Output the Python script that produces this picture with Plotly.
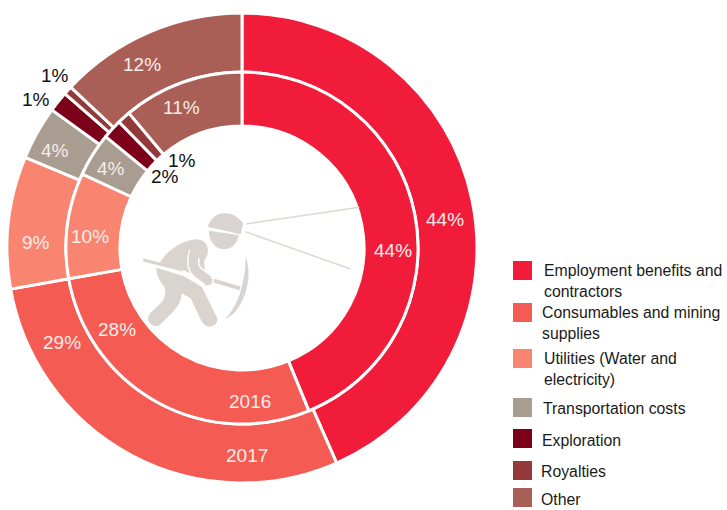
import plotly.graph_objects as go

W, H = 727, 510
categories = ["Employment benefits and contractors", "Consumables and mining supplies",
              "Utilities (Water and electricity)", "Transportation costs", "Exploration", "Royalties", "Other"]
legend_labels = ["Employment benefits and<br>contractors", "Consumables and mining<br>supplies",
                 "Utilities (Water and<br>electricity)", "Transportation costs", "Exploration", "Royalties", "Other"]
shares_2017 = [43.4, 28.8, 9.1, 3.7, 1.4, 0.6, 13.0]
shares_2016 = [43.8, 28.4, 9.7, 4.0, 1.8, 1.2, 11.1]
labels_2017 = ["44%", "29%", "9%", "4%", "1%", "1%", "12%"]
labels_2016 = ["44%", "28%", "10%", "4%", "2%", "1%", "11%"]
colors = ["#f01c3a", "#f45b52", "#f98570", "#a99c90", "#7c0019", "#93393a", "#aa5f56"]

pos_2017 = [(445, 219), (62, 342), (36, 242), (55, 150), (36, 100), (55, 75), (142, 64)]
pos_2016 = [(393, 250), (117, 329), (90, 236), (111, 169), (165, 176), (182, 160), (181, 107)]
outside = {"2017": {4, 5}, "2016": {4, 5}}
legend_square_y = [261, 303, 349, 398, 429, 461, 488]
legend_text_x = [545, 543, 545, 544, 543, 542, 542]
legend_text_y = [281, 323, 369, 408, 440, 471, 499]

CX, CY, R_OUT, R_MID, R_IN = 242, 248, 235, 176, 122
px = lambda x: x / W
py = lambda y: 1 - y / H
FONT = "Liberation Sans, Arial, sans-serif"


def pie(vals, r_outer, r_inner, name):
    return go.Pie(
        labels=categories, values=vals, name=name, sort=False, direction="clockwise", rotation=0,
        hole=r_inner / r_outer, textinfo="none", showlegend=False, hoverinfo="label+percent+name",
        marker=dict(colors=colors, line=dict(color="white", width=3)),
        domain=dict(x=[px(CX - r_outer), px(CX + r_outer)], y=[py(CY + r_outer), py(CY - r_outer)]),
    )


fig = go.Figure([pie(shares_2017, R_OUT, R_MID, "2017"), pie(shares_2016, R_MID, R_IN, "2016")])

ann = []


def text(x, y, s, color="#f7ecea", size=19, xanchor="center"):
    # plotly pads annotation boxes by 1px; compensate for left-anchored legend text
    ann.append(dict(x=px(x - (3 if xanchor == "left" else 0)), y=py(y), xref="paper", yref="paper", text=s,
                    showarrow=False, xanchor=xanchor, yanchor="middle", align="left",
                    font=dict(family=FONT, size=size, color=color)))


for yr, labs, pos in (("2017", labels_2017, pos_2017), ("2016", labels_2016, pos_2016)):
    for i, (s, p) in enumerate(zip(labs, pos)):
        text(p[0], p[1], s, "#111111" if i in outside[yr] else "#f7ecea")
text(247, 455, "2017")
text(250, 401, "2016")

shapes = []
for c, y in zip(colors, legend_square_y):
    shapes.append(dict(type="rect", xref="paper", yref="paper", x0=px(513), x1=px(532), y0=py(y), y1=py(y + 19),
                       fillcolor=c, line=dict(width=0)))
for lab, x, y in zip(legend_labels, legend_text_x, legend_text_y):
    text(x, y, lab, "#1a1a1a", 15.8, "left")

# Miner pictogram (drawn in a 240x150 local box placed at 130,190, 3 units per pixel)
ICON = "#d9d4cf"


def tr(s):
    out = []
    for tok in s.split():
        if tok.isalpha():
            out.append(tok)
        else:
            a, b = tok.split(",")
            out.append(f"{px(130 + float(a) / 3):.5f},{py(190 + float(b) / 3):.5f}")
    return " ".join(out)


def fill(path, color=ICON):
    shapes.append(dict(type="path", xref="paper", yref="paper", path=tr(path), fillcolor=color, line=dict(width=0)))


def stroke(path, width, color=ICON):
    shapes.append(dict(type="path", xref="paper", yref="paper", path=tr(path), line=dict(color=color, width=width)))


stroke("M 348,102 L 688,52", 1.5, "#ddd8d2")
stroke("M 345,125 L 662,237", 1.5, "#ddd8d2")
fill("M 233,110 C 245,80 265,69 285,70 C 310,70 328,85 340,100 L 332,133 Z")
fill("M 237,122 L 326,135 C 322,160 305,178 283,178 C 255,178 235,150 237,122 Z")
stroke("M 40,210 L 160,240", 3)
stroke("M 252,272 L 330,295", 4)
fill("M 347,200 C 358,230 358,265 350,295 C 340,340 315,375 285,388 C 310,360 328,325 335,290 C 342,260 348,230 347,200 Z")
fill("M 90,218 C 110,180 160,150 200,148 C 228,150 238,170 232,195 L 222,215 L 225,245 L 215,268 L 160,240 Z")
fill("M 80,233 L 160,258 L 215,290 L 262,385 C 264,400 250,412 235,410 C 225,408 218,400 213,390 "
     "L 182,325 L 155,310 C 155,335 140,355 120,375 L 85,408 C 70,412 50,398 55,380 C 60,365 85,350 100,330 "
     "C 110,310 108,295 95,280 C 85,265 78,250 80,233 Z")
stroke("M 195,185 C 185,215 190,240 208,252 L 236,272", 12.5, "white")
stroke("M 195,185 C 185,215 190,240 208,252 L 236,272", 9.5)
fill("M 178,190 C 180,170 210,165 216,185 C 218,195 212,205 205,205 L 180,205 Z")
fill("M 225,255 L 248,268 L 245,283 L 228,287 L 218,270 Z")

fig.update_layout(width=W, height=H, margin=dict(l=0, r=0, t=0, b=0), paper_bgcolor="white",
                  annotations=ann, shapes=shapes, showlegend=False)
fig.write_html("out.html", config=dict(displayModeBar=False),
               post_script="document.body.style.margin='0';document.body.style.overflow='hidden';")
